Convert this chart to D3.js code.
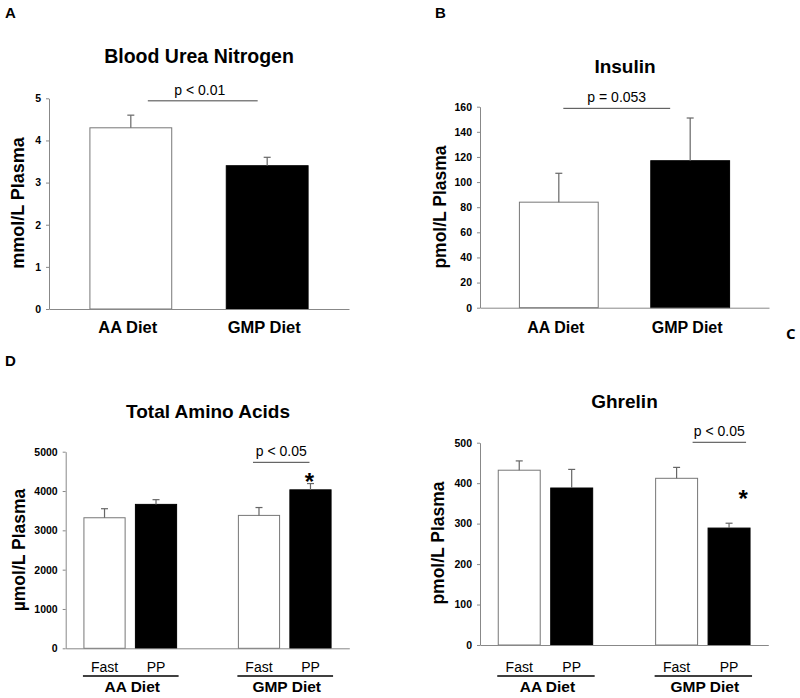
<!DOCTYPE html>
<html>
<head>
<meta charset="utf-8">
<script src="https://cdn.jsdelivr.net/npm/d3@7"></script>
<style>
	body { margin: 0; background: #fff; }
	text { font-family: "Liberation Sans", Arial, sans-serif; }
</style>
</head>
<body>
<svg width="800" height="698"></svg>
<script>

	// A - blood urea nitrogen
	var bunGroups = ["AA Diet", "GMP Diet"];
	var bunMeans = [4.3, 3.4];
	var bunErr = [0.3, 0.2];
	var bunTicks = [0, 1, 2, 3, 4, 5];

	// B - insulin
	var insGroups = ["AA Diet", "GMP Diet"];
	var insMeans = [84, 117];
	var insErr = [23, 34];
	var insTicks = [0, 20, 40, 60, 80, 100, 120, 140, 160];

	// D - total amino acids (rows: diet, cols: Fast / PP)
	var dietGroups = ["AA Diet", "GMP Diet"];
	var states = ["Fast", "PP"];
	var taaMeans = [[3320, 3660], [3380, 4030]];
	var taaErr = [[230, 120], [200, 160]];
	var taaTicks = [0, 1000, 2000, 3000, 4000, 5000];

	// C - ghrelin
	var ghrMeans = [[432, 388], [412, 289]];
	var ghrErr = [[23, 46], [27, 12]];
	var ghrTicks = [0, 100, 200, 300, 400, 500];

	var svg = d3.select("svg");

	function draw_panel(o){
		var g = svg.append("g");
		var y = d3.scaleLinear().domain([0, o.max]).range([o.yBot, o.yTop]);
		var xg = d3.scaleBand().domain(o.groups).range([o.x0, o.x1])
			.paddingInner(0.4).paddingOuter(o.po);
		var xs = null;
		if(o.sub){
			xs = d3.scaleBand().domain(o.sub).range([0, xg.bandwidth()]).paddingInner(0.2);
		}

		// flatten into bar list
		var bars = [];
		o.groups.forEach(function(gn, i){
			if(o.sub){
				o.sub.forEach(function(sn, j){
					bars.push({x: xg(gn) + xs(sn), w: xs.bandwidth(), v: o.means[i][j], e: o.err[i][j], white: j === 0, label: sn});
				});
			} else {
				bars.push({x: xg(gn), w: xg.bandwidth(), v: o.means[i], e: o.err[i], white: i === 0, label: gn});
			}
		});

		g.selectAll("rect.bar").data(bars).enter().append("rect")
			.attr("class", "bar")
			.attr("x", function(d){ return d.x; })
			.attr("y", function(d){ return y(d.v); })
			.attr("width", function(d){ return d.w; })
			.attr("height", function(d){ return y(0) - y(d.v); })
			.attr("fill", function(d){ return d.white ? "#fff" : "#000"; })
			.attr("stroke", function(d){ return d.white ? "#777" : "#000"; })
			.attr("stroke-width", 1);

		// upper error bars only
		var eb = g.selectAll("g.err").data(bars).enter().append("g").attr("class", "err")
			.attr("stroke", "#666").attr("stroke-width", 1.2);
		eb.append("line")
			.attr("x1", function(d){ return d.x + d.w / 2; })
			.attr("x2", function(d){ return d.x + d.w / 2; })
			.attr("y1", function(d){ return y(d.v); })
			.attr("y2", function(d){ return y(d.v + d.e); });
		eb.append("line")
			.attr("x1", function(d){ return d.x + d.w / 2 - 3.5; })
			.attr("x2", function(d){ return d.x + d.w / 2 + 3.5; })
			.attr("y1", function(d){ return y(d.v + d.e); })
			.attr("y2", function(d){ return y(d.v + d.e); });

		// axes
		var ya = g.append("g").attr("transform", "translate(" + o.x0 + ",0)")
			.call(d3.axisLeft(y).tickValues(o.ticks).tickFormat(d3.format("d"))
				.tickSize(3).tickSizeOuter(0).tickPadding(5));
		ya.selectAll("path, line").attr("stroke", "#888");
		ya.selectAll("text").attr("font-size", 10.5).attr("font-weight", "bold").attr("fill", "#000")
			.style("font-family", "'Liberation Sans', Arial, sans-serif");

		var xa = g.append("g").attr("transform", "translate(0," + o.yBot + ")")
			.call(d3.axisBottom(xg).tickSize(0).tickSizeOuter(0));
		xa.selectAll(".tick").remove();
		xa.select("path").attr("stroke", "#888");

		// category labels
		if(o.sub){
			g.selectAll("text.sub").data(bars).enter().append("text")
				.attr("class", "sub")
				.attr("x", function(d){ return d.x + d.w / 2; })
				.attr("y", o.subY)
				.attr("text-anchor", "middle")
				.attr("font-size", 14)
				.text(function(d){ return d.label; });
			o.groups.forEach(function(gn){
				g.append("line")
					.attr("x1", xg(gn) - 1).attr("x2", xg(gn) + xg.bandwidth() + 2)
					.attr("y1", o.groupLineY).attr("y2", o.groupLineY)
					.attr("stroke", "#000").attr("stroke-width", 1.5);
				g.append("text")
					.attr("x", xg(gn) + xg.bandwidth() / 2 + 2)
					.attr("y", o.groupY)
					.attr("text-anchor", "middle")
					.attr("font-size", 15.5).attr("font-weight", "bold")
					.text(gn);
			});
		} else {
			o.groups.forEach(function(gn){
				g.append("text")
					.attr("x", xg(gn) + xg.bandwidth() / 2 - 3)
					.attr("y", o.catY)
					.attr("text-anchor", "middle")
					.attr("font-size", o.catSize).attr("font-weight", "bold")
					.text(gn);
			});
		}

		// significance bracket
		var s = o.sig;
		var sx1 = bars[s.from[0]].x + bars[s.from[0]].w / 2 + s.from[1];
		var sx2 = bars[s.to[0]].x + bars[s.to[0]].w / 2 + s.to[1];
		g.append("line")
			.attr("x1", sx1).attr("x2", sx2)
			.attr("y1", y(s.v)).attr("y2", y(s.v))
			.attr("stroke", "#444").attr("stroke-width", 1);
		g.append("text")
			.attr("x", (sx1 + sx2) / 2 + s.dx)
			.attr("y", y(s.v) - 6)
			.attr("text-anchor", "middle")
			.attr("font-size", 14)
			.text(s.label);

		if(o.star){
			var sb = bars[o.star.bar];
			g.append("text")
				.attr("x", sb.x + sb.w / 2 + o.star.dx)
				.attr("y", y(o.star.v) + 13)
				.attr("text-anchor", "middle")
				.attr("font-size", 24).attr("font-weight", "bold")
				.text("*");
		}

		// titles and labels
		g.append("text")
			.attr("x", o.titleX).attr("y", o.titleY)
			.attr("text-anchor", "middle")
			.attr("font-size", o.titleSize).attr("font-weight", "bold")
			.text(o.title);

		g.append("text")
			.attr("transform", "translate(" + o.ylabX + "," + o.ylabY + ") rotate(-90)")
			.attr("dy", "0.35em")
			.attr("text-anchor", "middle")
			.attr("font-size", o.ylabSize).attr("font-weight", "bold")
			.text(o.ylab);

		g.append("text")
			.attr("x", o.letterX).attr("y", o.letterY)
			.attr("font-size", 15).attr("font-weight", "bold")
			.style("font-family", o.letterFont || "'Liberation Sans', Arial, sans-serif")
			.text(o.letter);
	}

	draw_panel({
		letter: "A", letterX: 5, letterY: 18,
		title: "Blood Urea Nitrogen", titleX: 199, titleY: 63, titleSize: 19.5,
		ylab: "mmol/L Plasma", ylabX: 18, ylabY: 203, ylabSize: 18,
		groups: bunGroups, means: bunMeans, err: bunErr, ticks: bunTicks, max: 5,
		x0: 49, x1: 349, yTop: 98.3, yBot: 309, po: 0.3,
		catY: 333, catSize: 16.5,
		sig: {label: "p < 0.01", v: 4.94, from: [0, 17], to: [1, -9.5], dx: -3}
	});

	draw_panel({
		letter: "B", letterX: 435, letterY: 18,
		title: "Insulin", titleX: 625, titleY: 73, titleSize: 19,
		ylab: "pmol/L Plasma", ylabX: 440, ylabY: 207, ylabSize: 17.5,
		groups: insGroups, means: insMeans, err: insErr, ticks: insTicks, max: 160,
		x0: 480, x1: 769, yTop: 106.7, yBot: 307.7, po: 0.3,
		catY: 333, catSize: 16,
		sig: {label: "p = 0.053", v: 158.7, from: [0, 4.5], to: [1, -20], dx: 0}
	});

	draw_panel({
		letter: "D", letterX: 5, letterY: 365.5,
		title: "Total Amino Acids", titleX: 208, titleY: 418, titleSize: 19,
		ylab: "\u00b5mol/L Plasma", ylabX: 19, ylabY: 550, ylabSize: 17.5,
		groups: dietGroups, sub: states, means: taaMeans, err: taaErr, ticks: taaTicks, max: 5000,
		x0: 65.7, x1: 349.3, yTop: 451.7, yBot: 648.3, po: 0.118,
		subY: 671.7, groupLineY: 676, groupY: 691.7,
		sig: {label: "p < 0.05", v: 4730, from: [2, -6], to: [3, -1], dx: 0},
		star: {bar: 3, v: 4364, dx: -1}
	});

	draw_panel({
		letter: "C", letterX: 786, letterY: 338.5, letterFont: "'Open Sans', sans-serif",
		title: "Ghrelin", titleX: 624.5, titleY: 408, titleSize: 19,
		ylab: "pmol/L Plasma", ylabX: 437.5, ylabY: 543, ylabSize: 17.5,
		groups: dietGroups, sub: states, means: ghrMeans, err: ghrErr, ticks: ghrTicks, max: 500,
		x0: 480, x1: 768.3, yTop: 442.7, yBot: 645, po: 0.116,
		subY: 671.7, groupLineY: 676, groupY: 691.7,
		sig: {label: "p < 0.05", v: 501, from: [2, 16], to: [3, 17], dx: 0},
		star: {bar: 3, v: 372, dx: 14}
	});

</script>
</body>
</html>
